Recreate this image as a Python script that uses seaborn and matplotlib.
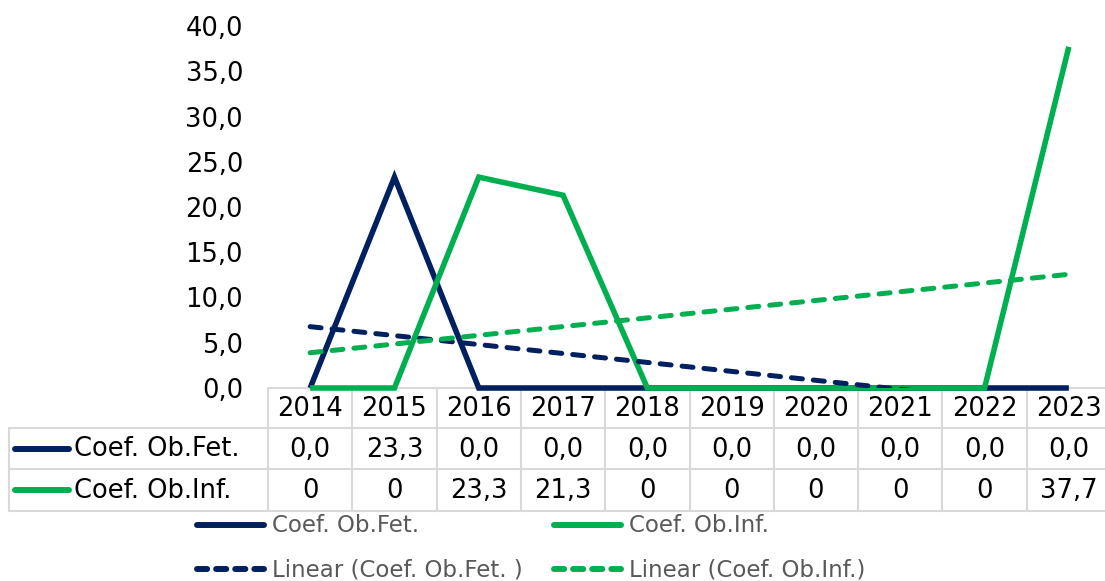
import numpy as np
import pandas as pd
import matplotlib
matplotlib.use("Agg")
import matplotlib.pyplot as plt
from matplotlib.lines import Line2D
import seaborn as sns

years = [2014, 2015, 2016, 2017, 2018, 2019, 2020, 2021, 2022, 2023]
fet = [0.0, 23.3, 0.0, 0.0, 0.0, 0.0, 0.0, 0.0, 0.0, 0.0]
inf = [0, 0, 23.3, 21.3, 0, 0, 0, 0, 0, 37.7]
fet_labels = ["0,0", "23,3", "0,0", "0,0", "0,0", "0,0", "0,0", "0,0", "0,0", "0,0"]
inf_labels = ["0", "0", "23,3", "21,3", "0", "0", "0", "0", "0", "37,7"]
series_names = ["Coef. Ob.Fet.", "Coef. Ob.Inf."]
trend_names = ["Linear (Coef. Ob.Fet. )", "Linear (Coef. Ob.Inf.)"]
yticks = [0, 5, 10, 15, 20, 25, 30, 35, 40]

NAVY = "#002060"
GREEN = "#00B050"
GRID = "#D9D9D9"
GREY_TXT = "#595959"

sns.set_theme(style="white")
plt.rcParams['font.family'] = ['DejaVu Sans']

W, H = 1105, 581
fig = plt.figure(figsize=(W / 100, H / 100), dpi=100)

def fx(x):
    return x / W

def fy(y):
    return 1 - y / H

x0, x1 = 268, 1111
y0, y40 = 388, 26
ax = fig.add_axes([fx(x0), fy(y0), fx(x1) - fx(x0), fy(y40) - fy(y0)])
ax.patch.set_visible(False)

idx = np.arange(len(years))
df = pd.DataFrame({"i": np.concatenate([idx, idx]),
                   "v": fet + inf,
                   "s": [series_names[0]] * len(years) + [series_names[1]] * len(years)})

sns.lineplot(data=df, x="i", y="v", hue="s", palette=[NAVY, GREEN], ax=ax,
             linewidth=4.0, legend=False)
for ln in ax.lines:
    ln.set_clip_on(False)
    ln.set_solid_joinstyle("miter")
    ln.set_solid_capstyle("butt")

# linear trendlines
for vals, col in [(fet, NAVY), (inf, GREEN)]:
    slope, intercept = np.polyfit(idx, np.array(vals, dtype=float), 1)
    tr = intercept + slope * idx
    sns.lineplot(x=idx, y=tr, ax=ax, color=col, linewidth=3.6, legend=False)
    l = ax.lines[-1]
    l.set_dashes((2.2, 2.2))
    l.set_dash_capstyle("round")
    l.set_clip_on(True)

ax.set_xlim(-0.5, 9.5)
ax.set_ylim(0, 40)
ax.set_yticks(yticks)
ax.set_yticklabels([f"{v:.1f}".replace(".", ",") for v in yticks], fontsize=18.5, color="black")
ax.tick_params(axis="y", length=0, pad=18)
ax.set_xticks([])
ax.set_xlabel("")
ax.set_ylabel("")
ax.grid(False)
for sp in ax.spines.values():
    sp.set_visible(False)

# data table
col_w = (x1 - x0) / len(years)
def hline(xa, xb, y):
    fig.add_artist(Line2D([fx(xa), fx(xb)], [fy(y), fy(y)], color=GRID, lw=1.5, zorder=-1))
def vline(x, ya, yb):
    fig.add_artist(Line2D([fx(x), fx(x)], [fy(ya), fy(yb)], color=GRID, lw=1.5, zorder=-1))

r_top, r1, r2, r_bot = 388, 428, 469, 511
left = 9
hline(x0, x1, r_top)
hline(left, x1, r1)
hline(left, x1, r2)
hline(left, x1, r_bot)
vline(left, r1, r_bot)
for k in range(len(years) + 1):
    vline(x0 + k * col_w, r_top, r_bot)

for k, yr in enumerate(years):
    cx = x0 + (k + 0.5) * col_w
    fig.text(fx(cx), fy((r_top + r1) / 2 + 1), str(yr), ha="center", va="center", fontsize=18.5, color="black")
    fig.text(fx(cx), fy((r1 + r2) / 2 + 1), fet_labels[k], ha="center", va="center", fontsize=18.5, color="black")
    fig.text(fx(cx), fy((r2 + r_bot) / 2 + 1), inf_labels[k], ha="center", va="center", fontsize=18.5, color="black")

for (ya, yb), name, col in [((r1, r2), series_names[0], NAVY), ((r2, r_bot), series_names[1], GREEN)]:
    yc = (ya + yb) / 2
    fig.add_artist(Line2D([fx(15), fx(69)], [fy(yc), fy(yc)], color=col, lw=4.3, solid_capstyle="round"))
    fig.text(fx(74), fy(yc + 1), name, ha="left", va="center", fontsize=18.5, color="black")

# legend
leg_items = [
    (197, 525, NAVY, "-", series_names[0]),
    (554, 525, GREEN, "-", series_names[1]),
    (197, 569, NAVY, "--", trend_names[0]),
    (554, 569, GREEN, "--", trend_names[1]),
]
for lx, ly, col, ls, name in leg_items:
    ln = Line2D([fx(lx), fx(lx + 67)], [fy(ly), fy(ly)], color=col, lw=4.3,
                solid_capstyle="round", dash_capstyle="round")
    if ls == "--":
        ln.set_dashes((1.7, 1.5))
    fig.add_artist(ln)
    fig.text(fx(lx + 75), fy(ly + 1), name, ha="left", va="center", fontsize=16.5, color=GREY_TXT)

fig.savefig("out.png", dpi=100)
